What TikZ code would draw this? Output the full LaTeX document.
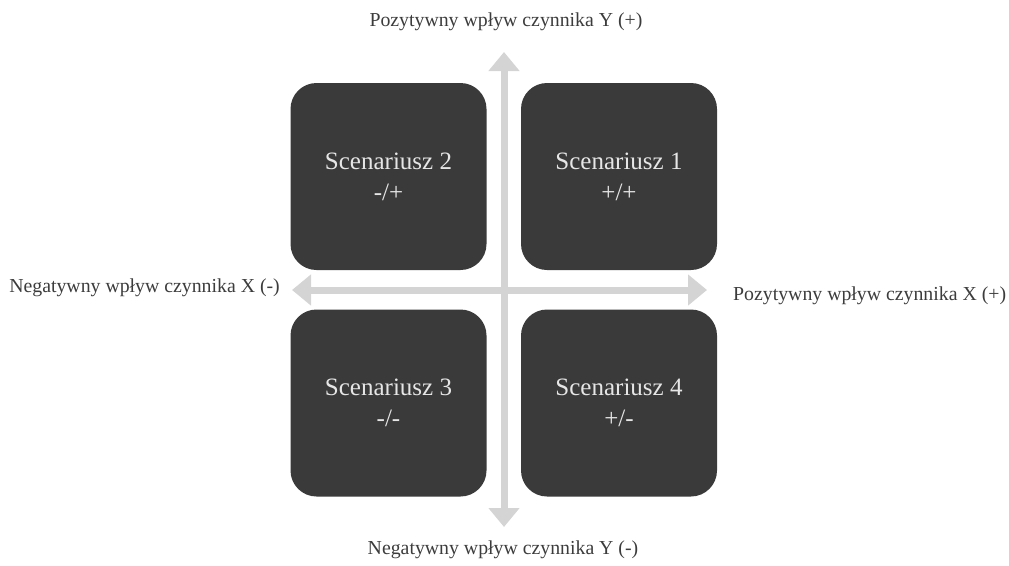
\documentclass[tikz,border=0pt]{standalone}
\usepackage{fontspec}
\setmainfont{Liberation Serif}
\usetikzlibrary{arrows.meta}
\definecolor{boxgray}{HTML}{3A3A3A}
\definecolor{axisgray}{HTML}{D4D4D4}
\definecolor{labelgray}{HTML}{3C3C3C}
\definecolor{boxtext}{HTML}{E6E6E6}
\begin{document}
\begin{tikzpicture}[x=1pt,y=-1pt,
  scenario/.style={fill=boxgray, rounded corners=26pt,
    minimum width=196pt, minimum height=187pt, inner sep=0pt,
    text=boxtext, align=center, font=\fontsize{25}{31}\selectfont},
  axis/.style={draw=axisgray, line width=7pt,
    {Triangle[width=30pt,length=19pt]}-{Triangle[width=30pt,length=19pt]}},
  axislabel/.style={text=labelgray, inner sep=0pt,
    font=\fontsize{19.8}{23}\selectfont}]
\useasboundingbox (0,0) rectangle (1009,565);

% axes
\coordinate (ytop) at (504,52);
\coordinate (ybot) at (504,527);
\coordinate (xleft) at (292,290);
\coordinate (xright) at (707,290);
\draw[axis] (ybot) -- (ytop);
\draw[axis] (xleft) -- (xright);

% scenario quadrants
\node[scenario] (s2) at (388.5,176.5) {Scenariusz 2\\-/+};
\node[scenario] (s1) at (619,176.5) {Scenariusz 1\\+/+};
\node[scenario] (s3) at (388.5,403) {Scenariusz 3\\-/-};
\node[scenario] (s4) at (619,403) {Scenariusz 4\\+/-};

% axis labels
\node[axislabel] (ypos) at (506,22) {Pozytywny wpływ czynnika Y (+)};
\node[axislabel] (yneg) at (503,550) {Negatywny wpływ czynnika Y (-)};
\node[axislabel, anchor=east] (xneg) at (280,288) {Negatywny wpływ czynnika X (-)};
\node[axislabel, anchor=west] (xpos) at (733,296) {Pozytywny wpływ czynnika X (+)};
\end{tikzpicture}
\end{document}
